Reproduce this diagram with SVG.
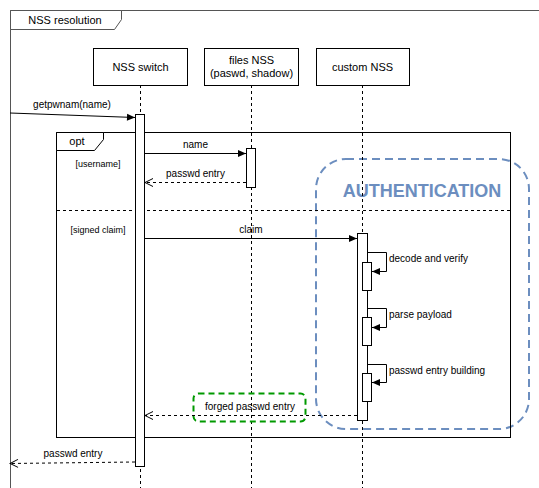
<svg xmlns="http://www.w3.org/2000/svg" width="539" height="488" viewBox="0 0 539 488">
<style>
text{font-family:"Liberation Sans",Arial,sans-serif;font-size:11px;fill:#000}
.box{fill:#fff;stroke:#000;stroke-width:1}
.life{stroke:#000;stroke-width:1;stroke-dasharray:3 3;fill:none}
.msg{stroke:#000;stroke-width:1;fill:none}
.ret{stroke:#000;stroke-width:1;fill:none;stroke-dasharray:3 3}
.act{fill:#fff;stroke:#000;stroke-width:1}
</style>
<defs>
<marker id="block" markerUnits="userSpaceOnUse" markerWidth="10" markerHeight="10" refX="9" refY="5" orient="auto">
<path d="M1,1.5 L9,5 L1,8.5 Z" fill="#000"/>
</marker>
<marker id="open" markerUnits="userSpaceOnUse" markerWidth="10" markerHeight="10" refX="9" refY="5" orient="auto">
<path d="M1,1 L9,5 L1,9" fill="none" stroke="#000"/>
</marker>
</defs>
<rect width="539" height="488" fill="#fff"/>

<g id="frame-nss-resolution">
<rect x="10.5" y="10.5" width="560" height="500" fill="none" stroke="#555" stroke-width="1"/>
<path d="M10.5,10.5 H121.5 V19.5 L114.5,29.5 H10.5 Z" fill="#fff" stroke="#555"/>
<text x="65" y="24" text-anchor="middle">NSS resolution</text>
</g>

<g id="authentication">
<rect x="316" y="159" width="213" height="270" rx="30" ry="30" fill="none" stroke="#6c8ebf" stroke-width="2" stroke-dasharray="8 5"/>
<text x="422" y="197" text-anchor="middle" style="font-size:18px;font-weight:bold;fill:#6c8ebf">AUTHENTICATION</text>
</g>

<g id="frame-opt">
<rect x="56.5" y="132.5" width="454" height="305" fill="none" stroke="#000"/>
<path d="M56.5,132.5 H103.5 V139.5 L94.5,150.5 H56.5 Z" fill="#fff" stroke="#000"/>
<text x="77" y="145" text-anchor="middle">opt</text>
<line x1="57" y1="210.5" x2="510" y2="210.5" stroke="#000" stroke-dasharray="3 3"/>
<text x="98" y="167" text-anchor="middle" style="font-size:9px">[username]</text>
<text x="98" y="233" text-anchor="middle" style="font-size:9px">[signed claim]</text>
</g>

<g id="lifelines">
<line class="life" x1="140.5" y1="85" x2="140.5" y2="488"/>
<line class="life" x1="251.5" y1="85" x2="251.5" y2="488"/>
<line class="life" x1="362.5" y1="85" x2="362.5" y2="488"/>
</g>

<g id="nss-switch">
<rect class="box" x="93.5" y="48.5" width="94" height="37"/>
<text x="140.5" y="71" text-anchor="middle">NSS switch</text>
</g>
<g id="files-nss">
<rect class="box" x="204.5" y="48.5" width="94" height="37"/>
<text x="251.5" y="64" text-anchor="middle">files NSS</text>
<text x="251.5" y="77" text-anchor="middle">(paswd, shadow)</text>
</g>
<g id="custom-nss">
<rect class="box" x="316.5" y="48.5" width="93" height="37"/>
<text x="362.5" y="71" text-anchor="middle">custom NSS</text>
</g>

<g id="activations">
<rect class="act" x="135.5" y="114.5" width="9" height="352"/>
<rect class="act" x="246.5" y="148.5" width="9" height="39"/>
<rect class="act" x="357.5" y="233.5" width="10" height="187"/>
<rect class="act" x="362.5" y="262.5" width="9" height="28"/>
<rect class="act" x="362.5" y="317.5" width="9" height="28"/>
<rect class="act" x="362.5" y="373.5" width="9" height="28"/>
</g>

<g id="forged-box">
<rect x="193.5" y="393.5" width="112" height="28" rx="5" ry="5" fill="none" stroke="#009900" stroke-width="2" stroke-dasharray="6 4"/>
</g>

<g id="connectors">
<line class="msg" x1="10" y1="113" x2="135" y2="117.5" marker-end="url(#block)"/>
<text x="72" y="108" text-anchor="middle" style="font-size:10px">getpwnam(name)</text>

<line class="msg" x1="145" y1="153.5" x2="246" y2="153.5" marker-end="url(#block)"/>
<text x="195.5" y="148" text-anchor="middle" style="font-size:10px">name</text>

<line class="ret" x1="246" y1="182.5" x2="145" y2="182.5" marker-end="url(#open)"/>
<text x="195.5" y="177" text-anchor="middle" style="font-size:10px">passwd entry</text>

<line class="msg" x1="145" y1="238.5" x2="357" y2="238.5" marker-end="url(#block)"/>
<text x="251" y="233" text-anchor="middle" style="font-size:10px">claim</text>

<polyline class="msg" points="368,252.5 386.5,252.5 386.5,271.5 372,271.5" marker-end="url(#block)"/>
<text x="389" y="262" style="font-size:10px">decode and verify</text>

<polyline class="msg" points="368,308.5 386.5,308.5 386.5,327.5 372,327.5" marker-end="url(#block)"/>
<text x="389" y="318" style="font-size:10px">parse payload</text>

<polyline class="msg" points="368,364.5 386.5,364.5 386.5,382.5 372,382.5" marker-end="url(#block)"/>
<text x="389" y="374" style="font-size:10px">passwd entry building</text>

<line class="ret" x1="357" y1="415.5" x2="145" y2="415.5" marker-end="url(#open)"/>
<text x="250" y="410" text-anchor="middle" style="font-size:10px">forged passwd entry</text>

<line class="ret" x1="135" y1="462" x2="10" y2="463.5" marker-end="url(#open)"/>
<text x="73" y="457" text-anchor="middle" style="font-size:10px">passwd entry</text>
</g>
</svg>
